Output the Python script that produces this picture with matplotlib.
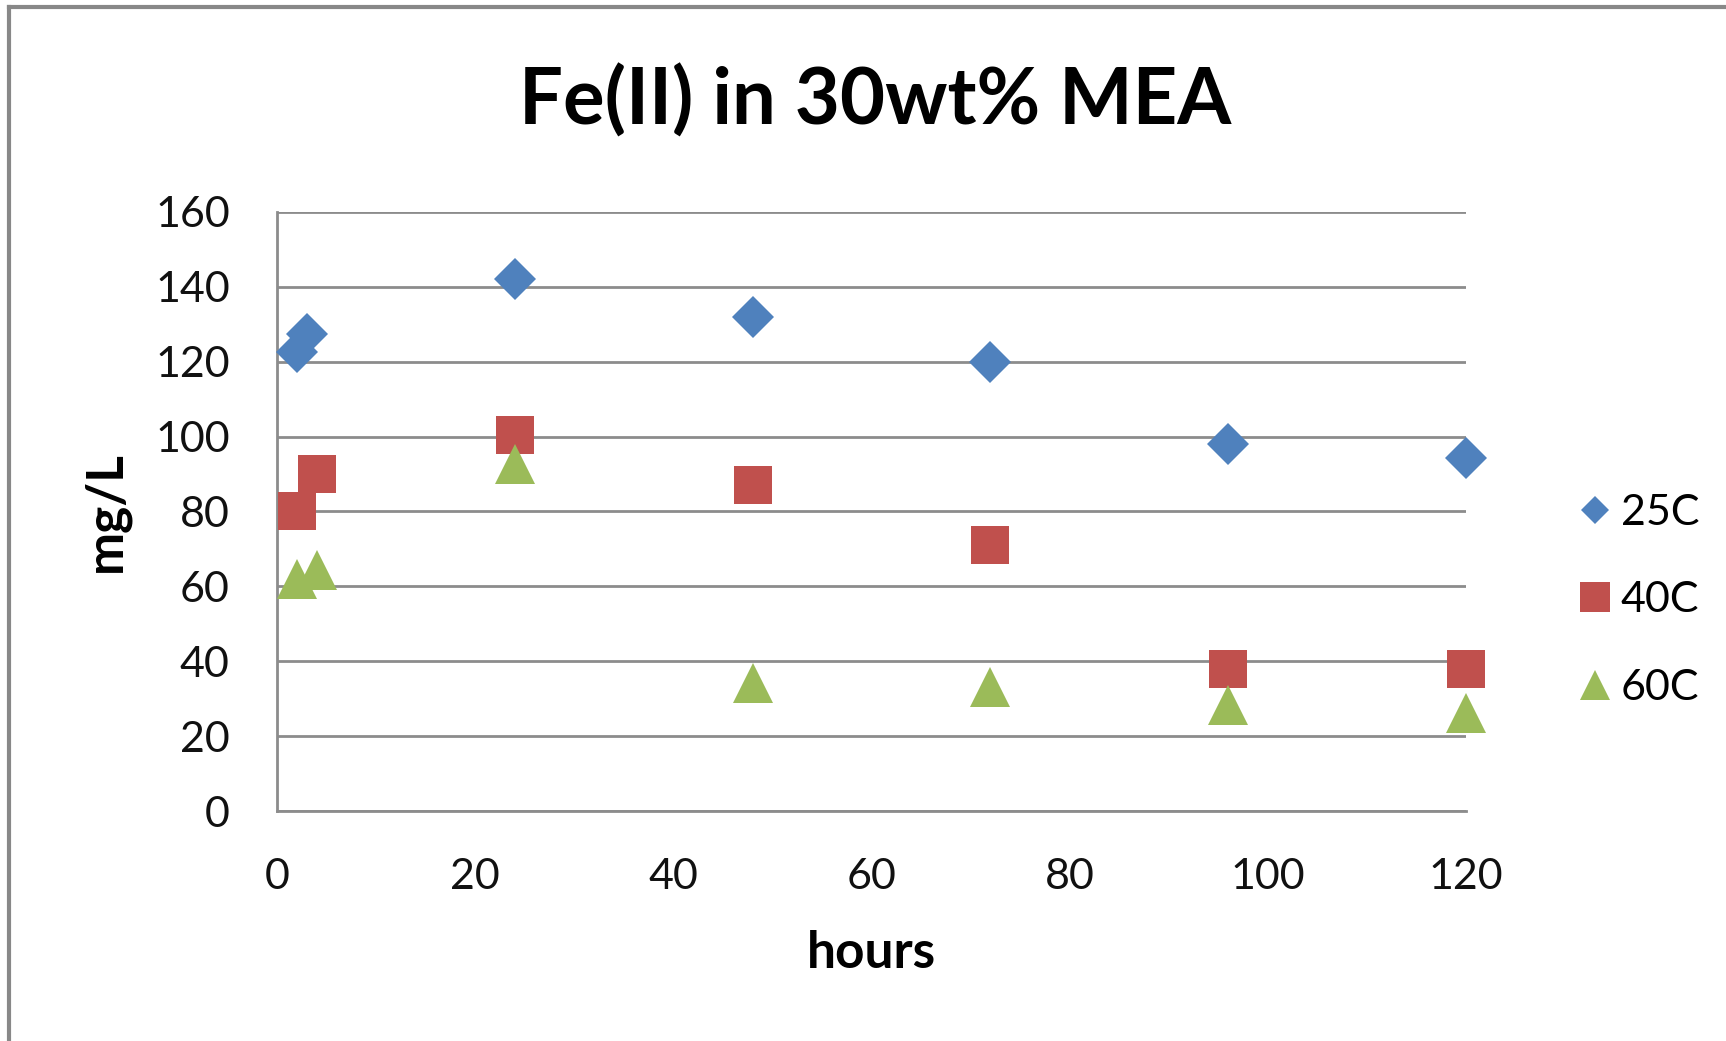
import matplotlib
matplotlib.use("Agg")
import matplotlib.pyplot as plt
from matplotlib.lines import Line2D

plt.rcParams['font.family'] = ['Lato', 'DejaVu Sans']

# Fe(II) concentration over time, per temperature
hours_25 = [2, 3, 24, 48, 72, 96, 120]
fe_25 = [122.5, 127.5, 142, 132, 120, 98, 94.3]
hours_40 = [2, 4, 24, 48, 72, 96, 120]
fe_40 = [80, 90, 100.5, 87, 71, 38, 38]
hours_60 = [2, 4, 24, 48, 72, 96, 120]
fe_60 = [62, 64.5, 92.8, 34.2, 33, 28.4, 26.1]

labels = ["25C", "40C", "60C"]
colors = ["#4F81BD", "#C0504D", "#9BBB59"]
markers = ["D", "s", "^"]
sizes = [21, 28, 29]
legend_sizes = [14, 21, 22]

fig = plt.figure(figsize=(17.26, 10.41), dpi=100)
ax = fig.add_axes([0.1605, 0.2209, 0.6889, 0.5755])

series = [(hours_25, fe_25), (hours_40, fe_40), (hours_60, fe_60)]
for (x, y), lab, c, m, s in zip(series, labels, colors, markers, sizes):
    ax.plot(x, y, linestyle="none", marker=m, markersize=s, color=c,
            markeredgewidth=0, label=lab, clip_on=False, zorder=3)

ax.set_xlim(0, 120)
ax.set_ylim(0, 160)
ax.set_xticks(range(0, 121, 20))
ax.set_yticks(range(0, 161, 20))
ax.yaxis.grid(True, color="#8c8c8c", linewidth=2)
ax.set_axisbelow(True)
for side in ("top", "right"):
    ax.spines[side].set_visible(False)
for side in ("left", "bottom"):
    ax.spines[side].set_color("#8c8c8c")
    ax.spines[side].set_linewidth(2)
ax.tick_params(length=0, labelsize=31, pad=34, colors="#111111")

ax.set_xlabel("hours", fontsize=37, fontweight="bold", labelpad=24)
ax.set_ylabel("mg/L", fontsize=37, fontweight="bold", labelpad=18)
fig.text(0.507, 0.880, "Fe(II) in 30wt% MEA", ha="center", va="baseline",
         fontsize=56, fontweight="bold")

leg = ax.legend(loc="center left", bbox_to_anchor=(1.065, 0.352), frameon=False,
                fontsize=31, handlelength=0.6, handletextpad=0.3,
                labelspacing=1.15)
for handle, ms in zip(leg.legend_handles, legend_sizes):
    handle.set_markersize(ms)

# outer chart frame (left and top edges)
fig.add_artist(Line2D([0.0055, 0.0055], [0.0, 0.993], color="#888888",
                      linewidth=3, transform=fig.transFigure))
fig.add_artist(Line2D([0.0055, 1.0], [0.993, 0.993], color="#888888",
                      linewidth=3, transform=fig.transFigure))

fig.savefig("out.png", dpi=100)
